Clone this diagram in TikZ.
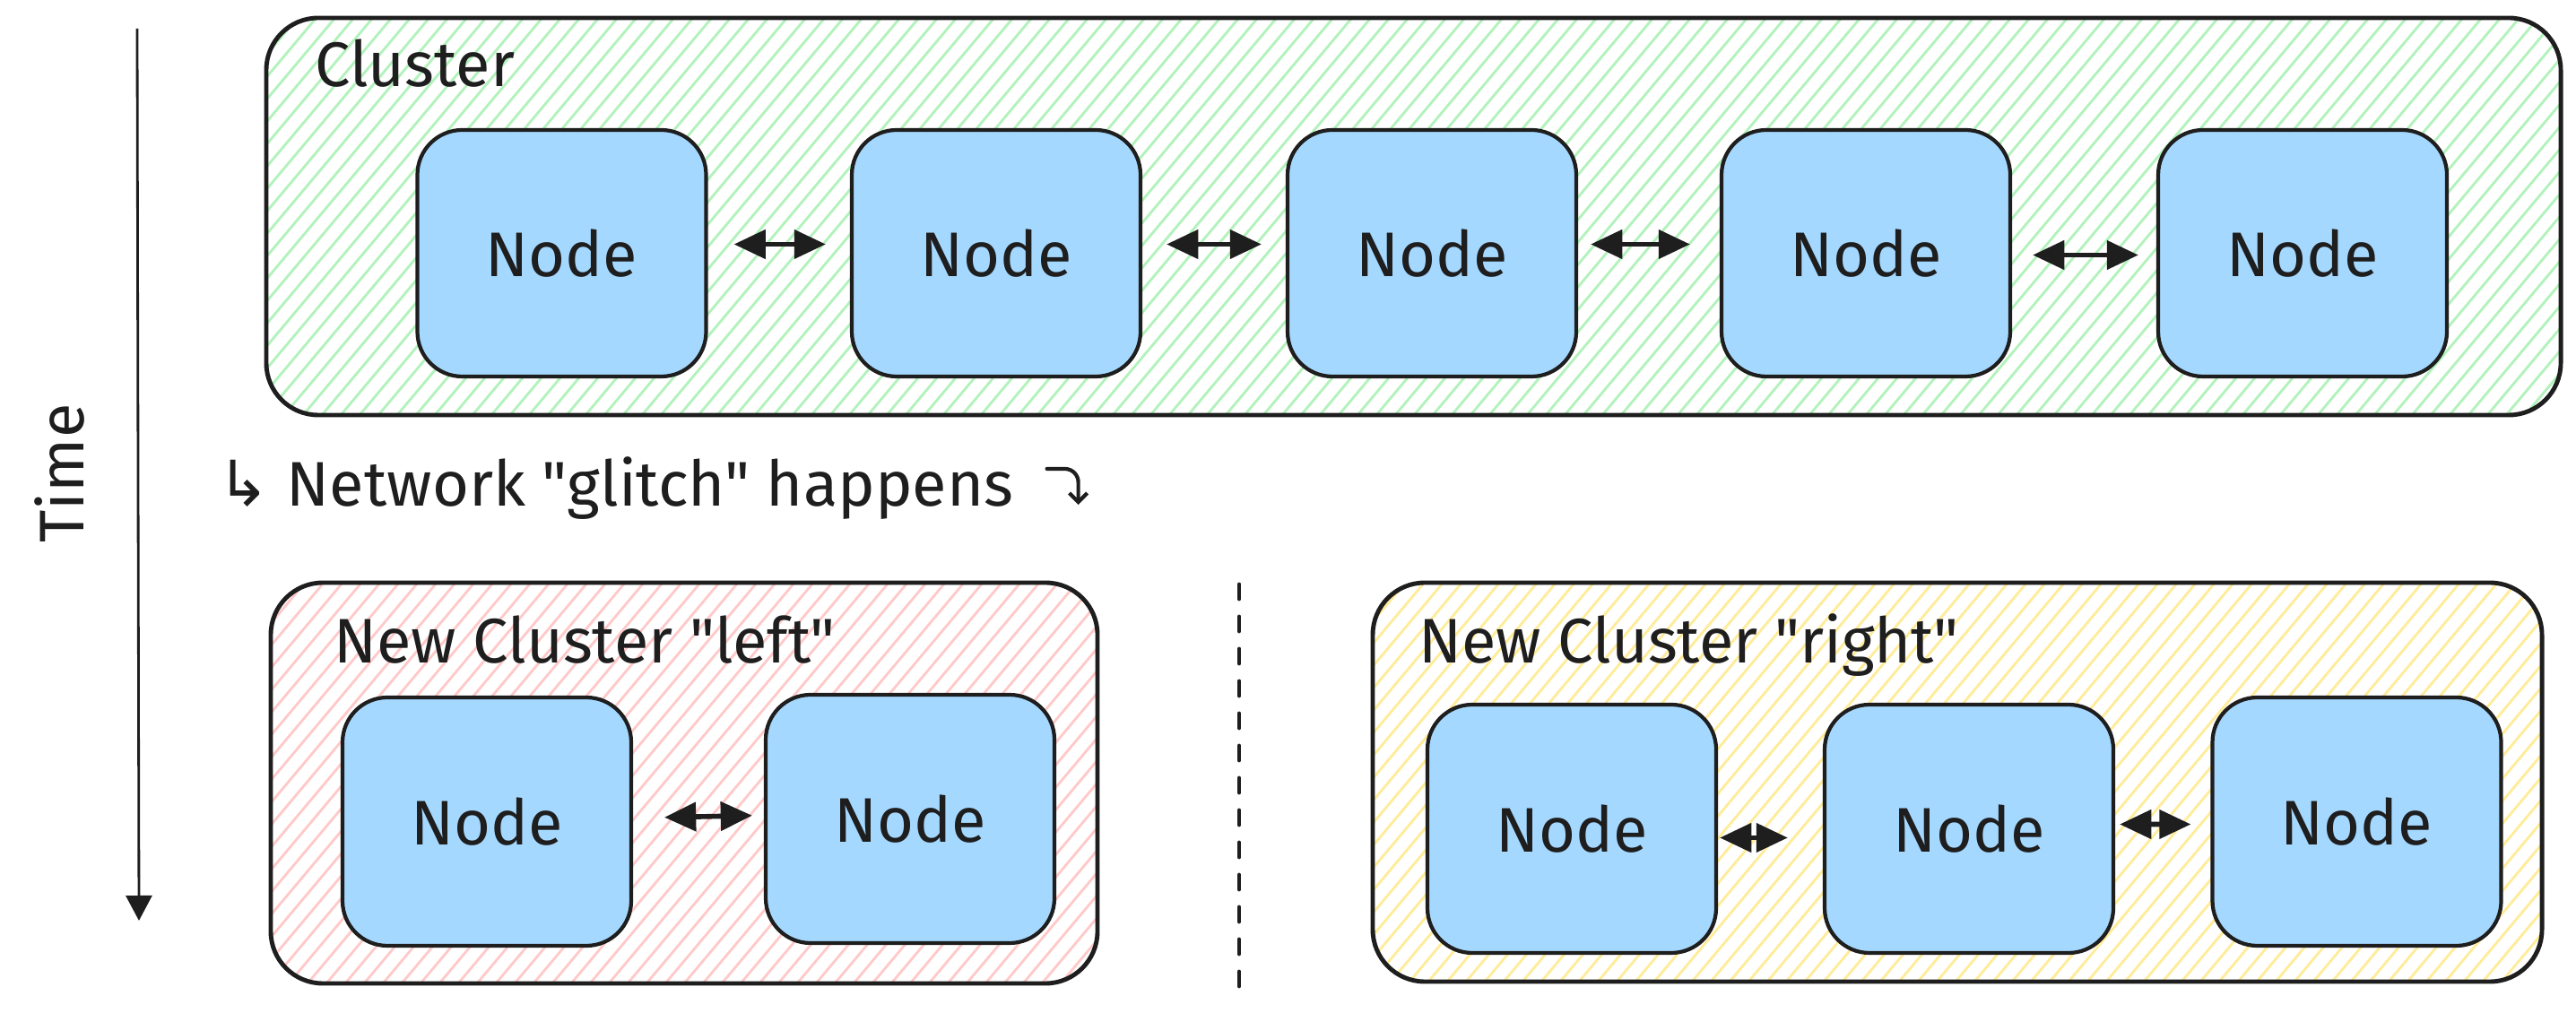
\documentclass[tikz,border=0pt]{standalone}
\usepackage{fontspec}
\setmainfont{Fira Sans}[Ligatures=TeXOff]
\newfontfamily\arrowglyphs{DejaVu Sans}
\usepackage{tikz}
\usetikzlibrary{arrows.meta}

\definecolor{ink}{HTML}{1E1E1E}
\definecolor{nodeblue}{HTML}{A5D8FF}
\definecolor{hatchgreen}{HTML}{B2F2BB}
\definecolor{hatchred}{HTML}{FFC9C9}
\definecolor{hatchyellow}{HTML}{FFEC99}

\tikzset{
  sketch/.style={font=\fontsize{20}{24}\selectfont, text=ink},
  hatch/.style={path picture={
      \foreach \k in {0,...,150}
        \draw[#1, line width=0.8pt] (path picture bounding box.south west) ++(\k*0.21-4,0) -- ++(50:7);
  }},
  cluster/.style={draw=ink, line width=1.4pt, rounded corners=0.58cm, hatch=#1},
  box/.style={sketch, draw=ink, fill=nodeblue, line width=1.2pt, rounded corners=0.5cm, minimum width=3.22cm, minimum height=2.75cm},
  link/.style 2 args={draw=ink, line width=1.6pt, {Triangle[length=10pt,width=9pt]}-{Triangle[length=10pt,width=9pt]}, shorten <=#1, shorten >=#2},
}

\begin{document}
\begin{tikzpicture}
    \path[use as bounding box, fill=white] (0,0) rectangle (28.73,-11.30);

    \node[cluster=hatchgreen, minimum width=25.59cm, minimum height=4.43cm] (whole) at (15.765,-2.415) {};
    \node[sketch, anchor=base west] (wholetitle) at (3.39,-0.97) {Cluster};

    \node[box] (n1) at (6.265,-2.825) {Node};
    \node[box] (n2) at (11.11,-2.825) {Node};
    \node[box] (n3) at (15.97,-2.825) {Node};
    \node[box] (n4) at (20.81,-2.825) {Node};
    \node[box] (n5) at (25.68,-2.825) {Node};

    \draw[link={0.29cm}{0.27cm}] ([yshift=0.1cm]n1.east) -- ([yshift=0.1cm]n2.west);
    \draw[link={0.27cm}{0.27cm}] ([yshift=0.1cm]n2.east) -- ([yshift=0.1cm]n3.west);
    \draw[link={0.14cm}{0.33cm}] ([yshift=0.1cm]n3.east) -- ([yshift=0.1cm]n4.west);
    \draw[link={0.23cm}{0.2cm}] ([yshift=-0.02cm]n4.east) -- ([yshift=-0.02cm]n5.west);

    \coordinate (ttop) at (1.53,-0.32);
    \coordinate (tbot) at (1.55,-10.27);
    \draw[ink, line width=0.8pt, -{Triangle[length=0.28cm,width=0.29cm]}] (ttop) -- (tbot);
    \node[sketch, rotate=90] (time) at (0.67,-5.28) {Time};

    \node[sketch, anchor=base west] (glitch) at (2.30,-5.65) {{\arrowglyphs ↳} Network "glitch" happens};
    \coordinate (hook) at ([xshift=0.25cm, yshift=0.42cm]glitch.base east);
    \draw[ink, line width=1.2pt, line cap=round, -{Straight Barb[length=0.1cm,width=0.2cm]}] (hook) -- ++(0.2,0) arc[start angle=90, end angle=0, radius=0.15] -- ++(0,-0.25);

    \node[cluster=hatchred, minimum width=9.22cm, minimum height=4.47cm] (left) at (7.63,-8.735) {};
    \node[sketch, anchor=base west] (lefttitle) at (3.60,-7.40) {New Cluster "left"};
    \node[box, minimum height=2.77cm] (a) at (5.43,-9.165) {Node};
    \node[box, minimum height=2.77cm] (b) at (10.15,-9.135) {Node};
    \draw[link={0.35cm}{0.13cm}] ([yshift=0.04cm]a.east) -- ([yshift=0.04cm]b.west);

    \coordinate (dtop) at (13.82,-6.52);
    \coordinate (dbot) at (13.82,-11.02);
    \draw[ink, line width=1.4pt, line cap=round, dash pattern=on 0.16cm off 0.2cm] (dtop) -- (dbot);

    \node[cluster=hatchyellow, minimum width=13.04cm, minimum height=4.45cm] (right) at (21.83,-8.725) {};
    \node[sketch, anchor=base west] (righttitle) at (15.70,-7.40) {New Cluster "right"};
    \node[box, minimum height=2.77cm] (c) at (17.53,-9.245) {Node};
    \node[box, minimum height=2.77cm] (d) at (21.96,-9.245) {Node};
    \node[box, minimum height=2.77cm] (e) at (26.285,-9.165) {Node};
    \draw[link={0.02cm}{0.39cm}] ([yshift=-0.1cm]c.east) -- ([yshift=-0.1cm]d.west);
    \draw[link={0.05cm}{0.22cm}] ([yshift=0.05cm]d.east) -- ([yshift=-0.03cm]e.west);
\end{tikzpicture}
\end{document}
